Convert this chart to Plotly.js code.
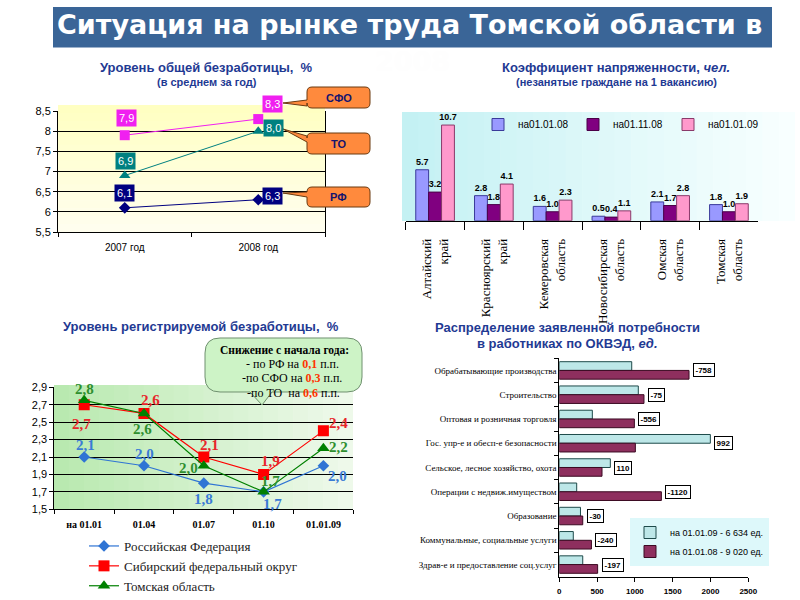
<!DOCTYPE html>
<html><head><meta charset="utf-8">
<script src="https://cdn.plot.ly/plotly-3.0.1.min.js"></script>
<style>html,body{margin:0;padding:0;background:#fff}#chart{width:800px;height:600px}</style>
</head><body><div id="chart"></div>
<script>
// ===== DATA =====
const years = ['2007 год', '2008 год'];
const generalSFO = [7.9, 8.3];
const generalTO = [6.9, 8.0];
const generalRF = [6.1, 6.3];
const generalCallouts = ['СФО', 'ТО', 'РФ'];

const regions = ['Алтайский<br>край', 'Красноярский<br>край', 'Кемеровская<br>область', 'Новосибирская<br>область', 'Омская<br>область', 'Томская<br>область'];
const tensionNames = ['на01.01.08', 'на01.11.08', 'на01.01.09'];
const tension0108 = [5.7, 2.8, 1.6, 0.5, 2.1, 1.8];
const tension1108 = [3.2, 1.8, 1.0, 0.4, 1.7, 1.0];
const tension0109 = [10.7, 4.1, 2.3, 1.1, 2.8, 1.9];

const dates = ['на 01.01', '01.04', '01.07', '01.10', '01.01.09'];
const regNames = ['Российская Федерация', 'Сибирский федеральный округ', 'Томская область'];
const regRF = [2.1, 2.0, 1.8, 1.7, 2.0];
const regSFO = [2.7, 2.6, 2.1, 1.9, 2.4];
const regTO = [2.75, 2.6, 2.0, 1.7, 2.2];
const declineTitle = 'Снижение с начала года:';
const declineWho = ['- по РФ на', '-по СФО на', '-по ТО  на'];
const declineVal = ['0,1', '0,3', '0,6'];

const okved = ['Обрабатывающие производства', 'Строительство', 'Оптовая и розничная торговля', 'Гос. упр-е и обесп-е безопасности', 'Сельское, лесное хозяйство, охота', 'Операции с недвиж.имуществом', 'Образование', 'Коммунальные, социальные услуги', 'Здрав-е и предоставление соц.услуг'];
const needNames = ['на 01.01.09 - 6 634 ед.', 'на 01.01.08 - 9 020 ед.'];
const need09 = [958, 1045, 437, 1998, 675, 230, 280, 185, 310];
const need08 = [1716, 1120, 993, 1006, 565, 1350, 310, 425, 507];
const needDiff = ['-758', '-75', '-556', '992', '110', '-1120', '-30', '-240', '-197'];

// ===== HELPERS =====
const W = 800, H = 600;
const fx = p => p / W, fy = p => 1 - p / H;
const P = (x, y) => fx(x).toFixed(5) + ',' + fy(y).toFixed(5);
const sans = 'Liberation Sans, Arial, sans-serif';
const serif = 'Liberation Serif, Times New Roman, serif';
const navy = '#1F3A93';
const comma = v => v.toFixed(1).replace('.', ',');

function hex2rgb(h) { return [1, 3, 5].map(i => parseInt(h.substr(i, 2), 16)); }
function grad(x0, y0, x1, y1, c0, c1, n, horiz) {
  const a = hex2rgb(c0), b = hex2rgb(c1), out = [];
  for (let i = 0; i < n; i++) {
    const t = i / (n - 1);
    const c = 'rgb(' + a.map((v, k) => Math.round(v + (b[k] - v) * t)).join(',') + ')';
    let r;
    if (horiz) { const w = (x1 - x0) / n; r = [x0 + i * w, y0, Math.min(x0 + (i + 1) * w + 0.6, x1), y1]; }
    else { const h = (y1 - y0) / n; r = [x0, y0 + i * h, x1, Math.min(y0 + (i + 1) * h + 0.6, y1)]; }
    out.push({ type: 'rect', xref: 'paper', yref: 'paper', layer: 'below', x0: fx(r[0]), x1: fx(r[2]), y0: fy(r[1]), y1: fy(r[3]), fillcolor: c, line: { width: 0 } });
  }
  return out;
}
function callout(x0, y0, x1, y1, r, tx, ty, bA, bB) {
  return 'M' + P(x0 + r, y0) + ' L' + P(x1 - r, y0) + ' Q' + P(x1, y0) + ' ' + P(x1, y0 + r) +
    ' L' + P(x1, y1 - r) + ' Q' + P(x1, y1) + ' ' + P(x1 - r, y1) + ' L' + P(x0 + r, y1) +
    ' Q' + P(x0, y1) + ' ' + P(x0, y1 - r) + ' L' + P(x0, bB) + ' L' + P(tx, ty) + ' L' + P(x0, bA) +
    ' L' + P(x0, y0 + r) + ' Q' + P(x0, y0) + ' ' + P(x0 + r, y0) + ' Z';
}
function bubble(x0, y0, x1, y1, r, bR, tx, ty, bL) {
  return 'M' + P(x0 + r, y0) + ' L' + P(x1 - r, y0) + ' Q' + P(x1, y0) + ' ' + P(x1, y0 + r) +
    ' L' + P(x1, y1 - r) + ' Q' + P(x1, y1) + ' ' + P(x1 - r, y1) + ' L' + P(bR, y1) + ' L' + P(tx, ty) +
    ' L' + P(bL, y1) + ' L' + P(x0 + r, y1) + ' Q' + P(x0, y1) + ' ' + P(x0, y1 - r) +
    ' L' + P(x0, y0 + r) + ' Q' + P(x0, y0) + ' ' + P(x0 + r, y0) + ' Z';
}
function txt(text, x, y, font, extra) {
  return Object.assign({ text, x: fx(x), y: fy(y), xref: 'paper', yref: 'paper', showarrow: false, xanchor: 'center', yanchor: 'middle', font }, extra || {});
}

// ===== TRACES =====
const traces = [];
// Top-left: general unemployment
const tlSeries = [[generalSFO, '#F020F0', 'square', 10], [generalTO, '#008080', 'triangle-up', 10], [generalRF, '#000080', 'diamond', 9]];
tlSeries.forEach(s => traces.push({ type: 'scatter', mode: 'lines+markers', x: years, y: s[0], xaxis: 'x', yaxis: 'y',
  line: { color: s[1], width: 1 }, marker: { symbol: s[2], size: s[3], color: s[1] }, showlegend: false, hoverinfo: 'skip' }));

// Top-right: tension coefficient
const trSeries = [[tension0108, '#9999FF', '#3A3A9A', -0.329], [tension1108, '#800080', '#4A0048', -0.110], [tension0109, '#FF99CC', '#8A3A6A', 0.110]];
trSeries.forEach((s, i) => traces.push({ type: 'bar', x: regions, y: s[0], name: tensionNames[i], xaxis: 'x2', yaxis: 'y2',
  width: 0.219, offset: s[3], marker: { color: s[1], line: { color: s[2], width: 1 } },
  text: s[0].map(v => v.toFixed(1)), textposition: 'outside', constraintext: 'none', cliponaxis: false,
  textfont: { family: sans, size: 9, color: '#000', weight: 'bold' }, legend: 'legend', hoverinfo: 'skip' }));

// Bottom-left: registered unemployment
const blSeries = [[regRF, '#2F74D4', 'diamond', 9], [regSFO, '#FF0000', 'square', 11], [regTO, '#008000', 'triangle-up', 11]];
blSeries.forEach((s, i) => traces.push({ type: 'scatter', mode: 'lines+markers', x: dates, y: s[0], name: regNames[i], xaxis: 'x3', yaxis: 'y3',
  line: { color: s[1], width: 1.2 }, marker: { symbol: s[2], size: s[3], color: s[1] }, legend: 'legend2', hoverinfo: 'skip' }));

// Bottom-right: demand by OKVED
traces.push({ type: 'bar', orientation: 'h', y: okved, x: need09, name: needNames[0], xaxis: 'x4', yaxis: 'y4', width: 0.36, offset: -0.36,
  marker: { color: '#BDE7E8', line: { color: '#1E4A4A', width: 1 } }, legend: 'legend3', hoverinfo: 'skip' });
traces.push({ type: 'bar', orientation: 'h', y: okved, x: need08, name: needNames[1], xaxis: 'x4', yaxis: 'y4', width: 0.36, offset: 0,
  marker: { color: '#8E2F5E', line: { color: '#3B0A22', width: 1 } }, legend: 'legend3', hoverinfo: 'skip' });

// ===== SHAPES =====
let shapes = [];
shapes.push({ type: 'rect', xref: 'paper', yref: 'paper', layer: 'below', x0: fx(53), x1: fx(772), y0: fy(47.5), y1: fy(7), fillcolor: '#3A6597', line: { width: 0 } });
shapes = shapes.concat(grad(58, 105, 325, 232, '#FFFFC2', '#FFFEEE', 16, false));
shapes = shapes.concat(grad(402, 112, 795, 221, '#C4F1F3', '#F8FFFF', 24, true));
shapes = shapes.concat(grad(54, 385, 353, 509, '#B9E9B0', '#EEF9EA', 20, true));
// callouts (top-left)
const orange = { fillcolor: '#FF8A3D', line: { color: '#6B3A10', width: 1 } };
shapes.push(Object.assign({ type: 'path', xref: 'paper', yref: 'paper', layer: 'above', path: callout(307, 87, 370, 108, 5, 283, 103, 100, 106) }, orange));
shapes.push(Object.assign({ type: 'path', xref: 'paper', yref: 'paper', layer: 'above', path: callout(307, 133, 370, 154, 5, 283, 129, 136, 142) }, orange));
shapes.push(Object.assign({ type: 'path', xref: 'paper', yref: 'paper', layer: 'above', path: callout(307, 187, 370, 207, 5, 283, 193, 192, 197) }, orange));
// bubble (bottom-left)
shapes.push({ type: 'path', xref: 'paper', yref: 'paper', layer: 'above', path: bubble(205, 338, 362, 392, 15, 272, 262, 405, 250),
  fillcolor: '#CDF3C6', line: { color: '#6F906F', width: 1 } });

// ===== ANNOTATIONS =====
const ann = [];
ann.push(txt('Ситуация на рынке труда Томской области в', 410, 25, { family: 'DejaVu Sans', size: 27, color: '#fff', weight: 'bold' }));
ann.push(txt('2008', 412, 61, { family: 'DejaVu Sans', size: 27, color: '#FEFEFE', weight: 'bold' }));
const tf = (s, w) => ({ family: sans, size: s, color: navy, weight: w || 'bold' });
ann.push(txt('Уровень общей безработицы,  %', 207, 68, tf(13)));
ann.push(txt('(в среднем за год)', 207, 82, tf(11)));
ann.push(txt('Коэффициент напряженности, <i>чел.</i>', 616, 67, tf(13)));
ann.push(txt('(незанятые граждане на 1 вакансию)', 616, 82, tf(11)));
ann.push(txt('Уровень регистрируемой безработицы,  %', 201, 326, tf(13)));
ann.push(txt('Распределение заявленной потребности', 567, 327, tf(13)));
ann.push(txt('в работниках по ОКВЭД, <i>ед.</i>', 567, 343, tf(13)));

// top-left value boxes
const tlShift = [[[2, 17], [14, 15]], [[1, 15], [15, 3]], [[0, 15], [14, 4]]];
tlSeries.forEach((s, si) => s[0].forEach((v, i) => ann.push({ x: i, y: v, xref: 'x', yref: 'y', text: comma(v), showarrow: false,
  xshift: tlShift[si][i][0], yshift: tlShift[si][i][1], bgcolor: s[1], borderpad: 2, font: { family: sans, size: 11, color: '#fff' } })));
// callout texts
[[338.5, 98], [338.5, 144], [338.5, 197.5]].forEach((p, i) => ann.push(txt(generalCallouts[i], p[0], p[1], { family: sans, size: 11, color: '#14146E', weight: 'bold' })));

// bottom-left value labels
const blShift = [[[1, 12], [0, 12], [0, -16], [9, -12], [14, -10]],
                 [[-3, -19], [6, 13], [6, 12], [7, 13], [15, 8]],
                 [[0, 11], [-2, -16], [-15, -2], [7, 11], [15, 1]]];
const blLabelColors = ['#3A7BD5', '#E8262B', '#2F8F2F'];
blSeries.forEach((s, si) => s[0].forEach((v, i) => ann.push({ x: i, y: v, xref: 'x3', yref: 'y3', text: comma(v), showarrow: false,
  xshift: blShift[si][i][0], yshift: blShift[si][i][1], font: { family: serif, size: 15, color: blLabelColors[si], weight: 'bold' } })));
// bubble text
ann.push(txt('<b>' + declineTitle + '</b>', 284, 349.5, { family: serif, size: 11.5, color: '#000' }));
[[292, 363.5], [291.5, 378], [293, 392.5]].forEach((p, i) => ann.push(txt(declineWho[i] + ' <b><span style="color:#FF3300">' + declineVal[i] + '</span></b> п.п.', p[0], p[1], { family: serif, size: 12, color: '#000' })));

// bottom-right difference boxes
needDiff.forEach((d, i) => ann.push({ x: Math.max(need08[i], need09[i]), y: i, xref: 'x4', yref: 'y4', text: d, showarrow: false,
  xanchor: 'left', xshift: 4, bgcolor: '#fff', bordercolor: '#000', borderwidth: 1, borderpad: 1.5,
  font: { family: sans, size: 8, color: '#000', weight: 'bold' } }));

// ===== LAYOUT =====
const axBase = { showline: true, linecolor: '#000', linewidth: 1, ticks: 'outside', tickcolor: '#000', fixedrange: true, zeroline: false };
const layout = {
  width: W, height: H, margin: { l: 0, r: 0, t: 0, b: 0, autoexpand: false }, paper_bgcolor: '#fff', plot_bgcolor: 'rgba(0,0,0,0)',
  separators: ', ', barmode: 'overlay', font: { family: sans, color: '#000' }, showlegend: true,
  xaxis: Object.assign({}, axBase, { domain: [fx(58), fx(325)], anchor: 'y', type: 'category', range: [-0.5, 1.5], tickson: 'boundaries', ticklen: 4, showgrid: false, ticklabelstandoff: 6, tickfont: { family: sans, size: 10 } }),
  yaxis: Object.assign({}, axBase, { domain: [fy(232), fy(111)], anchor: 'x', range: [5.5, 8.5], tick0: 5.5, dtick: 0.5, ticklen: 4, showgrid: true, gridcolor: '#000', gridwidth: 1, mirror: true, tickfont: { family: sans, size: 11 } }),
  xaxis2: Object.assign({}, axBase, { domain: [fx(405.7), fx(758.3)], anchor: 'y2', type: 'category', range: [-0.5, 5.5], tickson: 'boundaries', ticklen: 8, tickangle: -90, showgrid: false, ticklabelstandoff: 12, tickfont: { family: serif, size: 13 } }),
  yaxis2: { domain: [fy(220.7), fy(112)], anchor: 'x2', range: [0, 12.16], visible: false, fixedrange: true },
  xaxis3: Object.assign({}, axBase, { domain: [fx(54.3), fx(353.3)], anchor: 'y3', type: 'category', range: [-0.5, 4.5], tickson: 'boundaries', ticklen: 4, showgrid: false, ticklabelstandoff: 6, tickfont: { family: serif, size: 10, weight: 'bold' } }),
  yaxis3: Object.assign({}, axBase, { domain: [fy(509.3), fy(387.3)], anchor: 'x3', range: [1.5, 2.9], tick0: 1.5, dtick: 0.2, ticklen: 4, showgrid: true, gridcolor: '#000', gridwidth: 1, tickfont: { family: sans, size: 11 } }),
  xaxis4: Object.assign({}, axBase, { domain: [fx(559.3), fx(748.3)], anchor: 'y4', range: [0, 2500], dtick: 500, tick0: 0, ticklen: 4, showgrid: false, ticklabelstandoff: 3, tickfont: { family: sans, size: 8, weight: 'bold' } }),
  yaxis4: Object.assign({}, axBase, { domain: [fy(576.7), fy(358.3)], anchor: 'x4', type: 'category', range: [8.5, -0.5], tickson: 'boundaries', ticklen: 4, showgrid: false, tickfont: { family: serif, size: 9 } }),
  legend: { orientation: 'h', x: fx(478), y: fy(110), xanchor: 'left', yanchor: 'top', entrywidth: 50, entrywidthmode: 'pixels', bgcolor: 'rgba(0,0,0,0)', font: { family: sans, size: 10 }, itemclick: false, itemdoubleclick: false },
  legend2: { orientation: 'v', x: fx(84), y: fy(531), xanchor: 'left', yanchor: 'top', bgcolor: 'rgba(0,0,0,0)', font: { family: serif, size: 13, color: '#222' }, itemclick: false, itemdoubleclick: false },
  legend3: { orientation: 'v', x: fx(630), y: fy(518), xanchor: 'left', yanchor: 'top', bgcolor: '#DDF8FA', font: { family: sans, size: 9 }, itemclick: false, itemdoubleclick: false },
  shapes: shapes, annotations: ann
};
Plotly.newPlot('chart', traces, layout, { staticPlot: true, displayModeBar: false });
</script>
</body></html>
